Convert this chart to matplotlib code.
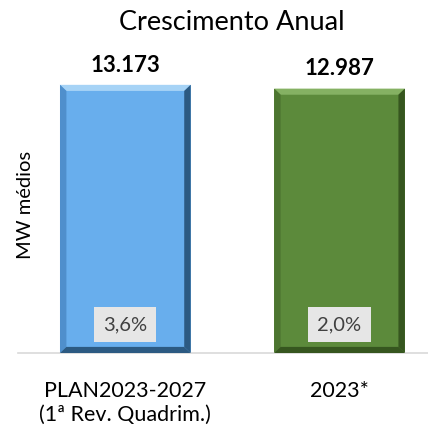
import matplotlib
matplotlib.use("Agg")
import matplotlib.pyplot as plt
from matplotlib.patches import Polygon

categories = ["PLAN2023-2027\n(1ª Rev. Quadrim.)", "2023*"]
values = [13173, 12987]
value_labels = ["13.173", "12.987"]
growth_labels = ["3,6%", "2,0%"]
colors = ["#68aeed", "#5c8a3b"]
light = ["#a6d3f6", "#85b163"]
dark = ["#2c5a82", "#36561f"]
mid = ["#4f8fcc", "#4c7530"]

W = 428
fig = plt.figure(figsize=(W / 100, W / 100), dpi=100)
fs = "Lato"
plt.rcParams['font.family'] = [fs, 'DejaVu Sans']

# axes placement in pixels
left, right, bottom, top = 18, 428, 353, 68
ax = fig.add_axes([left / W, 1 - bottom / W, (right - left) / W, (bottom - top) / W])
ax.set_ylim(0, 14000)
ax.set_xlim(-0.501, 1.413)
bw = 0.61
x = list(range(len(values)))
ax.bar(x, values, width=bw, color=colors, zorder=2)

# bevel decoration derived from bar geometry
bx = 0.03
by = 300
for i, v in enumerate(values):
    x0, x1 = i - bw / 2, i + bw / 2
    ax.add_patch(Polygon([(x0, v), (x1, v), (x1 - bx, v - by), (x0 + bx, v - by)], closed=True, color=light[i], lw=0, zorder=3))
    ax.add_patch(Polygon([(x0, v), (x0 + bx, v - by), (x0 + bx, by), (x0, 0)], closed=True, color=mid[i], lw=0, zorder=3))
    ax.add_patch(Polygon([(x1, v), (x1 - bx, v - by), (x1 - bx, by), (x1, 0)], closed=True, color=dark[i], lw=0, zorder=3))
    ax.add_patch(Polygon([(x0, 0), (x0 + bx, by), (x1 - bx, by), (x1, 0)], closed=True, color=dark[i], lw=0, zorder=3))
    ax.text(i, v + 450, value_labels[i], ha='center', va='bottom', fontsize=16, fontweight='bold', color='black')
    ax.text(i, 1400, growth_labels[i], ha='center', va='center', fontsize=14.5, color='#404040', zorder=5,
            bbox=dict(boxstyle='square,pad=0.45', fc='#e6e6e6', ec='none'))

for s in ['top', 'right', 'left']:
    ax.spines[s].set_visible(False)
ax.spines['bottom'].set_color('#d9d9d9')
ax.spines['bottom'].set_linewidth(1.2)
ax.set_yticks([])
ax.set_xticks(x)
ax.set_xticklabels(categories, fontsize=15.5, linespacing=1.25)
ax.tick_params(axis='x', length=0, pad=20)
ax.set_ylabel("MW médios", fontsize=14.5, labelpad=2)
ax.yaxis.set_label_coords(16 / (right - left), (bottom - 205) / (bottom - top))
fig.text(232 / W, 1 - 23 / W, "Crescimento Anual", ha='center', va='center', fontsize=19.5)

fig.savefig("out.png", dpi=100)
